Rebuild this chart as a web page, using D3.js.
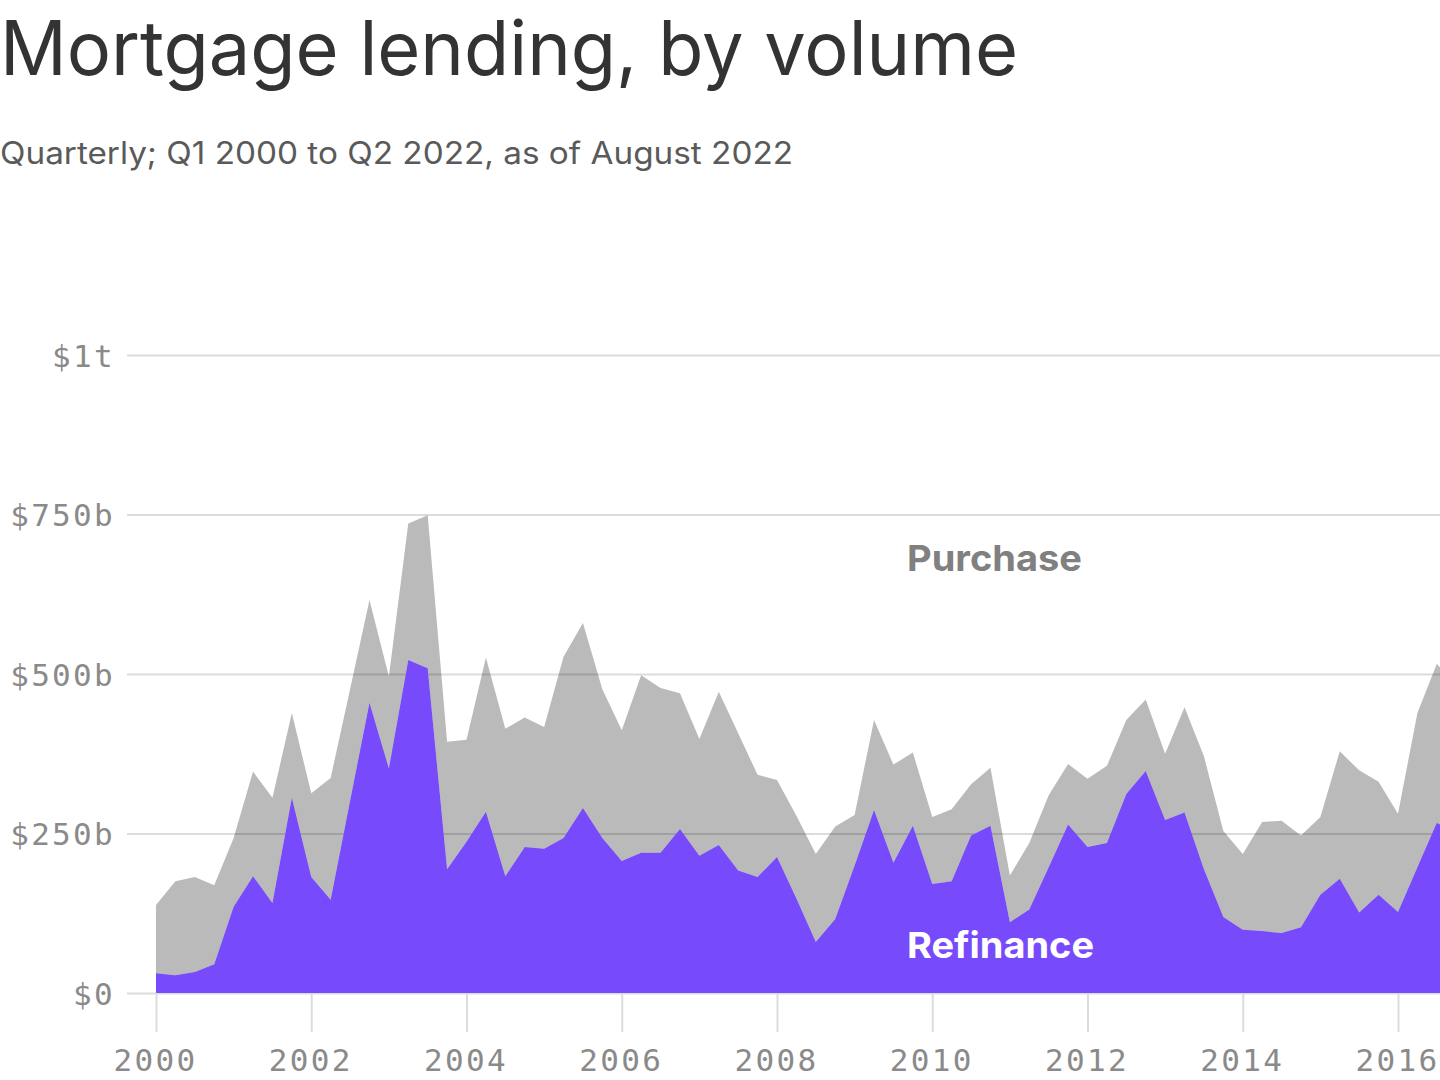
<!DOCTYPE html>
<html lang="en">
<head>
    <meta charset="UTF-8">
    <title>Mortgage lending, by volume</title>
    <script src="https://d3js.org/d3.v7.min.js"></script>
    <style>
        body {
            margin: 0;
            background: #fff;
            overflow: hidden;
        }
        .title {
            font-family: "Inter", sans-serif;
            fill: #333;
        }
        .subtitle {
            font-family: "Inter", sans-serif;
            fill: #5a5a5a;
        }
        .axis text {
            font-family: "DejaVu Sans Mono", monospace;
            font-size: 31px;
            letter-spacing: 2.3px;
            fill: #8a8a8a;
        }
        .axis line {
            stroke: #dcdcdc;
            stroke-width: 2;
        }
        .series-label {
            font-family: "Inter", sans-serif;
            font-weight: 700;
            font-size: 36px;
        }
    </style>
</head>
<body>
    <div id="chart"></div>

    <script>
        // Quarters, Q1 2000 onward (only the visible part of the chart)
        const quarters = [
            "2000Q1","2000Q2","2000Q3","2000Q4","2001Q1","2001Q2","2001Q3","2001Q4",
            "2002Q1","2002Q2","2002Q3","2002Q4","2003Q1","2003Q2","2003Q3","2003Q4",
            "2004Q1","2004Q2","2004Q3","2004Q4","2005Q1","2005Q2","2005Q3","2005Q4",
            "2006Q1","2006Q2","2006Q3","2006Q4","2007Q1","2007Q2","2007Q3","2007Q4",
            "2008Q1","2008Q2","2008Q3","2008Q4","2009Q1","2009Q2","2009Q3","2009Q4",
            "2010Q1","2010Q2","2010Q3","2010Q4","2011Q1","2011Q2","2011Q3","2011Q4",
            "2012Q1","2012Q2","2012Q3","2012Q4","2013Q1","2013Q2","2013Q3","2013Q4",
            "2014Q1","2014Q2","2014Q3","2014Q4","2015Q1","2015Q2","2015Q3","2015Q4",
            "2016Q1","2016Q2","2016Q3","2016Q4"
        ];

        // Refinance volume, $ billions
        const refinance = [
            31, 28, 33, 45, 135, 183, 141, 306,
            182, 146, 301, 455, 352, 522, 509, 194,
            237, 284, 183, 229, 226, 243, 290, 243,
            207, 220, 220, 257, 215, 232, 192, 182,
            213, 148, 80, 116, 200, 287, 204, 262,
            171, 175, 247, 262, 111, 131, 197, 264,
            229, 235, 312, 348, 271, 283, 194, 119,
            99, 97, 94, 103, 154, 179, 126, 154,
            127, 197, 267, 250
        ];

        // Purchase volume, $ billions
        const purchase = [
            107, 147, 149, 124, 108, 164, 165, 133,
            131, 191, 175, 161, 144, 214, 240, 200,
            160, 242, 231, 203, 191, 284, 290, 233,
            205, 278, 258, 213, 183, 240, 215, 160,
            121, 130, 138, 145, 79, 141, 154, 115,
            105, 113, 80, 91, 73, 104, 113, 95,
            107, 121, 116, 112, 104, 165, 177, 135,
            119, 171, 176, 144, 122, 200, 223, 177,
            154, 242, 249, 230
        ];

        const yTicks = [0, 250, 500, 750, 1000];
        const yTickLabels = ["$0", "$250b", "$500b", "$750b", "$1t"];
        const xTicks = [2000, 2002, 2004, 2006, 2008, 2010, 2012, 2014, 2016];

        const width = 1440, height = 1080;
        const svg = d3.select("#chart").append("svg")
            .attr("width", width)
            .attr("height", height);

        // Rows for the stack
        const data = quarters.map((q, i) => ({
            t: +q.slice(0, 4) + (+q.slice(5) - 1) / 4,
            refinance: refinance[i],
            purchase: purchase[i]
        }));

        // The plot is wider than the window, it runs on past 2016
        const x = d3.scaleLinear()
            .domain([2000, 2016])
            .range([156, 1398]);

        const y = d3.scaleLinear()
            .domain([0, 1000])
            .range([993, 355]);

        // Title and subtitle
        svg.append("text")
            .attr("class", "title")
            .attr("x", 0)
            .attr("y", 75)
            .attr("font-size", 75)
            .attr("textLength", 1018)
            .attr("lengthAdjust", "spacingAndGlyphs")
            .text("Mortgage lending, by volume");

        svg.append("text")
            .attr("class", "subtitle")
            .attr("x", 0)
            .attr("y", 164)
            .attr("font-size", 31)
            .attr("textLength", 793)
            .attr("lengthAdjust", "spacingAndGlyphs")
            .text("Quarterly; Q1 2000 to Q2 2022, as of August 2022");

        // Y gridlines go under the areas
        const yAxis = d3.axisLeft(y)
            .tickValues(yTicks)
            .tickFormat((d, i) => yTickLabels[i])
            .tickSize(-(width - 127))
            .tickPadding(12);

        const yG = svg.append("g")
            .attr("class", "axis")
            .attr("transform", "translate(127,0)")
            .call(yAxis);
        yG.select(".domain").remove();
        yG.selectAll("text").attr("dy", "0.36em");

        // X axis ticks
        const xAxis = d3.axisBottom(x)
            .tickValues(xTicks)
            .tickFormat(d3.format("d"))
            .tickSize(39)
            .tickPadding(0);

        const xG = svg.append("g")
            .attr("class", "axis")
            .attr("transform", `translate(0,${y(0)})`)
            .call(xAxis);
        xG.select(".domain").remove();
        xG.selectAll("text")
            .attr("y", 78)
            .attr("dy", 0)
            .attr("dx", "-1px");

        // Stacked areas
        const stack = d3.stack().keys(["refinance", "purchase"]);
        const series = stack(data);

        const area = d3.area()
            .x(d => x(d.data.t))
            .y0(d => y(d[0]))
            .y1(d => y(d[1]));

        const fills = { refinance: "#774bfc", purchase: "#000" };
        const opac = { refinance: 1, purchase: 0.27 };

        svg.append("g")
            .selectAll("path")
            .data(series)
            .join("path")
            .attr("d", area)
            .attr("fill", d => fills[d.key])
            .attr("fill-opacity", d => opac[d.key]);

        // Series labels
        svg.append("text")
            .attr("class", "series-label")
            .attr("x", 907)
            .attr("y", 571)
            .attr("fill", "#808080")
            .attr("textLength", 175)
            .attr("lengthAdjust", "spacingAndGlyphs")
            .text("Purchase");

        svg.append("text")
            .attr("class", "series-label")
            .attr("x", 907)
            .attr("y", 958)
            .attr("fill", "#fff")
            .attr("textLength", 187)
            .attr("lengthAdjust", "spacingAndGlyphs")
            .text("Refinance");
    </script>
</body>
</html>
